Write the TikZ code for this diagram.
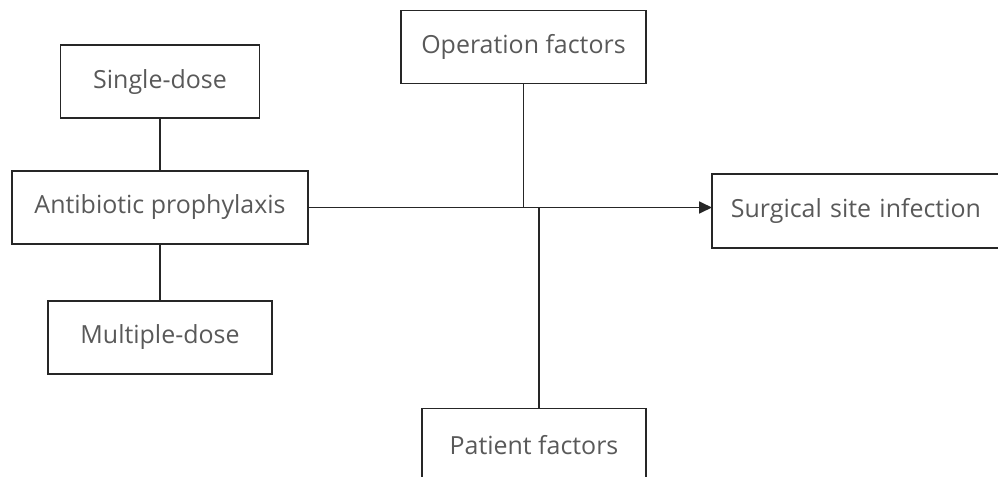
\documentclass[tikz,border=0pt]{standalone}
\usepackage{fontspec}
\setmainfont{Open Sans}
\usetikzlibrary{positioning,arrows.meta}

\begin{document}
\begin{tikzpicture} [
                x=0.02cm, y=-0.02cm,
                factorbox/.style={
                    rectangle,
                    draw=black!85,
                    line width=1pt,
                    text=black!65,
                    font=\fontsize{14.2}{17}\selectfont,
                    minimum height=1.46cm
                },
                link/.style={
                    draw=black!85,
                    line width=1pt
                }
            ]
                \useasboundingbox (0,0) rectangle (998,477);
                \node[factorbox, minimum width=5.92cm] (anti)   at (160,207.5) {Antibiotic prophylaxis};
                \node[factorbox, minimum width=3.98cm] (single) [above=1.02cm of anti] {Single-dose};
                \node[factorbox, minimum width=4.48cm] (multi)  [below=1.1cm of anti]  {Multiple-dose};
                \node[factorbox, minimum width=4.9cm]  (oper)   at (523.5,47)  {Operation factors};
                \node[factorbox, minimum width=4.48cm] (pat)    at (534,445)   {Patient factors};
                \node[factorbox, draw=none, anchor=west, text width=7.5cm,
                      align=left, inner xsep=3.6mm] (ssi) at (712,211) {Surgical site infection};
                \draw[link] (ssi.north east) -- (ssi.north west) -- (ssi.south west) -- (ssi.south east);
                \coordinate (opj)  at (oper.south |- anti.east);
                \coordinate (patj) at (539,207);
                \draw[link] (anti.north) -- (anti.north |- single.south);
                \draw[link] (anti.south) -- (anti.south |- multi.north);
                \draw[link, -{Triangle[length=2.6mm,width=2.4mm]}] (anti.east) -- (anti.east -| ssi.west);
                \draw[link] (oper.south) -- (opj);
                \draw[link] (patj) -- (patj |- pat.north);
            \end{tikzpicture}
\end{document}
